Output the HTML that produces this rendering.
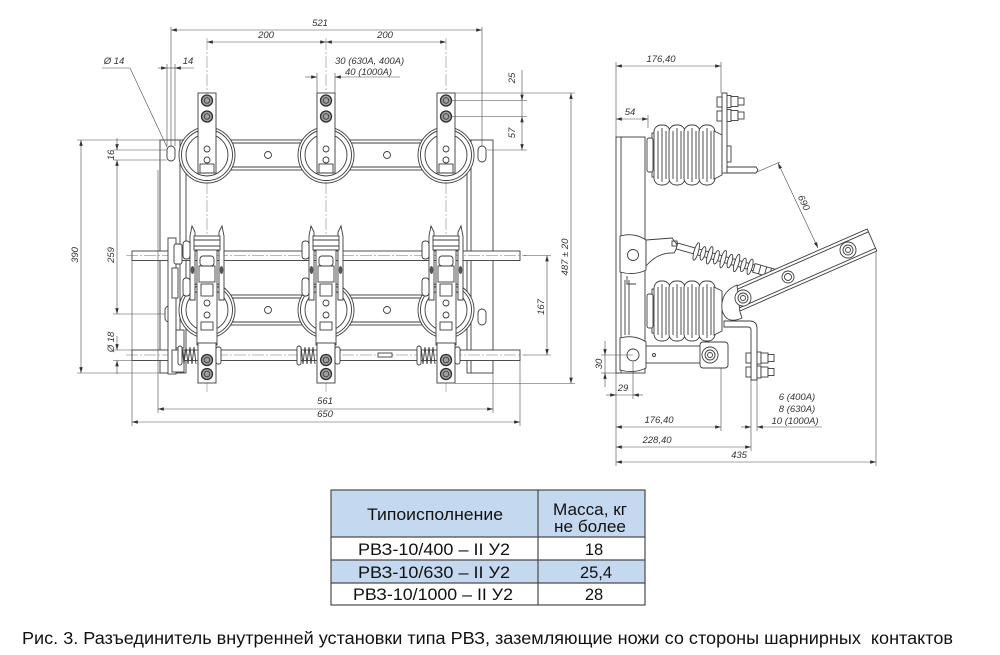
<!DOCTYPE html>
<html><head><meta charset="utf-8"><style>
html,body{margin:0;padding:0;background:#fff;}
svg{display:block;}
.o{fill:none;stroke:#3c3c3c;stroke-width:0.9}
.w{fill:#fff;stroke:#3c3c3c;stroke-width:0.9}
.bt{fill:#a0a0a0;stroke:#2e2e2e;stroke-width:1.3}
.d{fill:none;stroke:#4a4a4a;stroke-width:0.6}
.c{fill:none;stroke:#707070;stroke-width:0.5;stroke-dasharray:12 2 2 2}
.t{font-family:"Liberation Sans Narrow","Liberation Sans",sans-serif;font-style:italic;font-size:9.5px;fill:#333}
.tb{font-family:"Liberation Sans","Noto Sans CJK SC",sans-serif;fill:#111}
</style></head><body>
<svg width="1000" height="655" viewBox="0 0 1000 655" xmlns="http://www.w3.org/2000/svg">
<defs>
<marker id="a" viewBox="0 0 10 6" refX="10" refY="3" markerWidth="6" markerHeight="3.5" orient="auto-start-reverse" markerUnits="userSpaceOnUse"><path d="M0,0 L10,3 L0,6 z" fill="#333"/></marker>
<g id="ph">
 <circle cy="155" r="28" class="w"/>
 <circle cy="155" r="25.5" class="o"/>
 <circle cy="155" r="21" class="o"/>
 <circle cy="310" r="28" class="w"/>
 <circle cy="310" r="25.5" class="o"/>
 <circle cy="310" r="21" class="o"/>
 <rect x="-9" y="93" width="18" height="80" class="w"/>
 <rect x="-7" y="164" width="14" height="9" class="o"/>
 <circle cy="100.5" r="5.5" class="bt"/><circle cy="100.5" r="2.8" class="o"/>
 <circle cy="116.5" r="5.5" class="bt"/><circle cy="116.5" r="2.8" class="o"/>
 <circle cy="149" r="3" class="o"/><circle cy="160" r="3" class="o"/>
 <path class="w" d="M-17,236 L-15,226 L-12,232 L-12,300 L-17,300 Z"/>
 <path class="w" d="M17,236 L15,226 L12,232 L12,300 L17,300 Z"/>
 <rect x="-13" y="236" width="26" height="14" class="w"/>
 <line x1="-13" y1="240" x2="13" y2="240" class="o"/>
 <line x1="-13" y1="246" x2="13" y2="246" class="o"/>
 <rect x="-10" y="250" width="20" height="95" class="w"/>
 <rect x="-7" y="256" width="14" height="10" rx="3" class="o"/>
 <rect x="-8" y="266" width="16" height="16" class="o"/>
 <rect x="-6" y="284" width="12" height="12" class="o"/>
 <circle cy="303" r="3" class="o"/><circle cy="315" r="3" class="o"/>
 <rect x="-6" y="322" width="12" height="8" class="o"/>
 <rect x="-24" y="241" width="7" height="18" rx="3" class="w"/>
 <rect x="-24" y="278" width="7" height="18" rx="3" class="w"/>
 <ellipse cx="-14.5" cy="270" rx="1.8" ry="4" fill="#555"/>
 <ellipse cx="14.5" cy="270" rx="1.8" ry="4" fill="#555"/>
 <rect x="-9" y="343" width="18" height="40" class="w"/>
 <circle cy="360" r="5.5" class="bt"/><circle cy="360" r="2.8" class="o"/>
 <circle cy="374" r="5.5" class="bt"/><circle cy="374" r="2.8" class="o"/>
 <rect x="9" y="347" width="5" height="17" rx="2" class="w"/>
 <rect x="-29" y="346" width="4" height="19" rx="2" class="w"/>
 <path class="o" d="M-25,347 L-23,364 L-21,347 L-19,364 L-17,347 L-15,364 L-13,347 L-11,364"/>
</g>
<g id="bel">
 <rect x="652" y="-22" width="66" height="44" class="w"/>
 <rect x="647" y="-17" width="6" height="34" rx="2" class="w"/>
 <rect x="654" y="-30" width="16" height="60" rx="7" class="w"/>
 <rect x="669" y="-30" width="16" height="60" rx="7" class="w"/>
 <rect x="684" y="-30" width="16" height="60" rx="7" class="w"/>
 <rect x="699" y="-30" width="16" height="60" rx="7" class="w"/>
 <path class="w" d="M714,-24 L722,-20 L722,20 L714,24 Z"/>
 <g class="o" stroke-width="0.5">
  <line x1="658" y1="-24" x2="658" y2="24"/><line x1="662" y1="-27" x2="662" y2="27"/><line x1="666" y1="-24" x2="666" y2="24"/>
  <line x1="673" y1="-24" x2="673" y2="24"/><line x1="677" y1="-27" x2="677" y2="27"/><line x1="681" y1="-24" x2="681" y2="24"/>
  <line x1="688" y1="-24" x2="688" y2="24"/><line x1="692" y1="-27" x2="692" y2="27"/><line x1="696" y1="-24" x2="696" y2="24"/>
  <line x1="703" y1="-24" x2="703" y2="24"/><line x1="707" y1="-27" x2="707" y2="27"/><line x1="711" y1="-24" x2="711" y2="24"/>
 </g>
</g>
</defs>

<!-- ================= FRONT VIEW ================= -->
<g class="c">
<line x1="207" y1="38" x2="207" y2="392"/>
<line x1="326" y1="38" x2="326" y2="392"/>
<line x1="446" y1="38" x2="446" y2="392"/>
<line x1="171" y1="140" x2="171" y2="330"/>
<line x1="482" y1="140" x2="482" y2="330"/>
</g>
<g class="o">
<rect x="160" y="140" width="26" height="233" fill="#fff"/>
<line x1="180" y1="140" x2="180" y2="373"/>
<rect x="467" y="140" width="26" height="233" fill="#fff"/>
<line x1="471" y1="140" x2="471" y2="373"/>
<rect x="186" y="140" width="281" height="30" fill="#fff"/>
<line x1="186" y1="143" x2="467" y2="143"/>
<line x1="186" y1="167" x2="467" y2="167"/>
<rect x="186" y="295" width="281" height="30" fill="#fff"/>
<line x1="186" y1="298" x2="467" y2="298"/>
<line x1="186" y1="322" x2="467" y2="322"/>
<circle cx="268" cy="155" r="3.5"/><circle cx="387" cy="155" r="3.5"/>
<circle cx="268" cy="310" r="3.5"/><circle cx="387" cy="310" r="3.5"/>
<rect x="167" y="146" width="8" height="15" rx="4"/>
<rect x="478" y="146" width="8" height="16" rx="4"/>
<rect x="165" y="306" width="8" height="16" rx="4"/>
<rect x="478" y="309" width="8" height="16" rx="4"/>
</g>
<rect class="w" x="132" y="251" width="388" height="9.5"/>
<rect class="w" x="132" y="350" width="388" height="10.5"/>
<g class="c">
<line x1="126" y1="255.5" x2="526" y2="255.5"/>
<line x1="126" y1="355" x2="526" y2="355"/>
</g>
<g class="w">
<rect x="168" y="238" width="8" height="136"/>
<rect x="174" y="244" width="8" height="20" rx="2"/>
<rect x="172" y="268" width="6" height="30"/>
<rect x="176" y="330" width="8" height="18"/>
<rect x="172" y="350" width="12" height="22"/>
</g>
<rect class="w" x="378" y="353" width="14" height="4"/>
<use href="#ph" x="207"/>
<use href="#ph" x="326"/>
<use href="#ph" x="446"/>

<!-- front dims -->
<g class="d">
<line x1="171" y1="27" x2="171" y2="146"/>
<line x1="482" y1="27" x2="482" y2="146"/>
<line x1="171" y1="30" x2="482" y2="30" marker-start="url(#a)" marker-end="url(#a)"/>
<line x1="207" y1="42" x2="326" y2="42" marker-start="url(#a)" marker-end="url(#a)"/>
<line x1="326" y1="42" x2="446" y2="42" marker-start="url(#a)" marker-end="url(#a)"/>
<line x1="167" y1="64" x2="167" y2="146"/>
<line x1="175" y1="64" x2="175" y2="146"/>
<line x1="158" y1="68" x2="167" y2="68" marker-end="url(#a)"/>
<line x1="194" y1="68" x2="175" y2="68" marker-end="url(#a)"/>
<line x1="167" y1="68" x2="175" y2="68"/>
<polyline points="102,68 130,68 167,147"/>
<line x1="317" y1="73" x2="317" y2="93"/>
<line x1="335" y1="73" x2="335" y2="93"/>
<line x1="305" y1="77" x2="317" y2="77" marker-end="url(#a)"/>
<line x1="400" y1="77" x2="335" y2="77" marker-end="url(#a)"/>
<line x1="452" y1="100.5" x2="527" y2="100.5"/>
<line x1="452" y1="116.5" x2="527" y2="116.5"/>
<line x1="487" y1="150" x2="527" y2="150"/>
<line x1="522" y1="70" x2="522" y2="100.5" marker-end="url(#a)"/>
<line x1="522" y1="100.5" x2="522" y2="116.5"/>
<line x1="522" y1="116.5" x2="522" y2="150" marker-start="url(#a)" marker-end="url(#a)"/>
<line x1="455" y1="93" x2="575" y2="93"/>
<line x1="455" y1="383.5" x2="575" y2="383.5"/>
<line x1="571" y1="93" x2="571" y2="383.5" marker-start="url(#a)" marker-end="url(#a)"/>
<line x1="524" y1="255.5" x2="551" y2="255.5"/>
<line x1="524" y1="355" x2="551" y2="355"/>
<line x1="547" y1="255.5" x2="547" y2="355" marker-start="url(#a)" marker-end="url(#a)"/>
<line x1="77" y1="140" x2="160" y2="140"/>
<line x1="77" y1="373" x2="160" y2="373"/>
<line x1="81" y1="140" x2="81" y2="373" marker-start="url(#a)" marker-end="url(#a)"/>
<line x1="113" y1="150" x2="167" y2="150"/>
<line x1="113" y1="160" x2="167" y2="160"/>
<line x1="117" y1="138" x2="117" y2="150" marker-end="url(#a)"/>
<line x1="117" y1="160" x2="117" y2="314" marker-start="url(#a)" marker-end="url(#a)"/>
<line x1="113" y1="314" x2="165" y2="314"/>
<line x1="113" y1="350" x2="132" y2="350"/>
<line x1="113" y1="360.5" x2="132" y2="360.5"/>
<line x1="117" y1="336" x2="117" y2="350" marker-end="url(#a)"/>
<line x1="117" y1="374" x2="117" y2="360.5" marker-end="url(#a)"/>
<line x1="158" y1="170" x2="158" y2="413"/>
<line x1="493" y1="373" x2="493" y2="413"/>
<line x1="132" y1="261" x2="132" y2="426"/>
<line x1="520" y1="361" x2="520" y2="426"/>
<line x1="158" y1="409" x2="493" y2="409" marker-start="url(#a)" marker-end="url(#a)"/>
<line x1="132" y1="422" x2="520" y2="422" marker-start="url(#a)" marker-end="url(#a)"/>
</g>
<g class="t" text-anchor="middle">
<text x="320" y="26">521</text>
<text x="266" y="38">200</text>
<text x="385" y="38">200</text>
<text x="114" y="64">Ø 14</text>
<text x="188" y="64">14</text>
<text x="325" y="404">561</text>
<text x="325" y="417">650</text>
<text transform="translate(515,78) rotate(-90)">25</text>
<text transform="translate(515,133) rotate(-90)">57</text>
<text transform="translate(568,257) rotate(-90)">487 ± 20</text>
<text transform="translate(544,307) rotate(-90)">167</text>
<text transform="translate(78,255) rotate(-90)">390</text>
<text transform="translate(114,255) rotate(-90)">259</text>
<text transform="translate(114,155) rotate(-90)">16</text>
<text transform="translate(114,342) rotate(-90)">Ø 18</text>
</g>
<g class="t">
<text x="335" y="64">30 (630A, 400A)</text>
<text x="345" y="75">40 (1000A)</text>
</g>

<!-- ================= SIDE VIEW ================= -->
<rect class="w" x="616" y="137" width="29" height="236"/>
<line class="o" x1="621" y1="137" x2="621" y2="373"/>
<line class="o" x1="625" y1="280" x2="625" y2="335"/>
<line class="o" x1="629" y1="280" x2="629" y2="335"/>
<use href="#bel" y="155"/>
<use href="#bel" y="311"/>
<!-- upper terminal -->
<rect class="w" x="722" y="93" width="5" height="80"/>
<path class="w" d="M727,167 L756,167 L758,170 L756,173 L727,173 Z"/>
<rect class="w" x="717" y="97" width="5" height="10"/>
<rect class="w" x="717" y="111" width="5" height="10"/>
<rect class="w" x="727" y="146" width="4" height="16"/>
<rect class="w" x="727" y="95.5" width="4" height="12"/>
<rect class="w" x="731" y="96.5" width="7" height="10"/>
<rect class="w" x="738" y="98" width="6" height="7"/>
<rect class="w" x="727" y="109.5" width="4" height="12"/>
<rect class="w" x="731" y="110.5" width="7" height="10"/>
<rect class="w" x="738" y="112" width="6" height="7"/>
<!-- hinge and arm -->
<path class="w" d="M620,236 Q634,232 646,240 L646,270 Q634,276 620,272 Z"/>
<circle class="o" cx="633" cy="255" r="5.5"/>
<path class="o" d="M627,276 L627,284 L636,284"/>
<path class="w" d="M646,240 L672,238 L678,246 L674,253 Q658,252 646,266 Z"/>
<rect class="o" x="672" y="241" width="5" height="5"/>
<g transform="translate(677,246) rotate(15.9)">
 <rect class="w" x="0" y="-3" width="100" height="6"/>
 <ellipse class="w" cx="20" cy="0" rx="2.2" ry="9"/>
 <ellipse class="w" cx="27" cy="0" rx="2.2" ry="7"/>
 <ellipse class="w" cx="34" cy="0" rx="2.2" ry="9"/>
 <ellipse class="w" cx="41" cy="0" rx="2.2" ry="7"/>
 <ellipse class="w" cx="48" cy="0" rx="2.2" ry="9"/>
 <ellipse class="w" cx="55" cy="0" rx="2.2" ry="7"/>
 <ellipse class="w" cx="62" cy="0" rx="2.2" ry="9"/>
 <ellipse class="w" cx="69" cy="0" rx="2.2" ry="7"/>
 <ellipse class="w" cx="76" cy="0" rx="2.2" ry="8"/>
 <rect class="w" x="80" y="-4.5" width="22" height="9"/>
 <line class="o" x1="86" y1="-4.5" x2="86" y2="4.5"/>
 <line class="o" x1="92" y1="-4.5" x2="92" y2="4.5"/>
 <line class="o" x1="97" y1="-4.5" x2="97" y2="4.5"/>
</g>
<!-- blade -->
<polygon class="w" points="730.2,289 867.2,229 876.8,251 739.8,311"/>
<line class="o" x1="731.4" y1="291.8" x2="868.4" y2="231.8"/>
<line class="o" x1="738.6" y1="308.2" x2="875.6" y2="248.2"/>
<path class="w" d="M737,285 Q720,292 722,310 Q726,325 742,318 L739.8,311 Z"/>
<circle class="w" cx="743" cy="298" r="8"/><circle class="o" cx="743" cy="298" r="5"/><circle class="o" cx="743" cy="298" r="2.5"/>
<circle class="w" cx="788" cy="277" r="6"/><circle class="o" cx="788" cy="277" r="3.5"/>
<circle class="w" cx="848" cy="250" r="8"/><circle class="o" cx="848" cy="250" r="5"/><circle class="o" cx="848" cy="250" r="2.5"/>
<!-- lower terminal -->
<path class="w" d="M724,321 L750,321 Q757,321 757,329 L757,380 L751,380 L751,330 Q751,327 748,327 L724,327 Z"/>
<rect class="w" x="746" y="353" width="5" height="10"/>
<rect class="w" x="746" y="367" width="5" height="10"/>
<rect class="w" x="757" y="352" width="4" height="12"/>
<rect class="w" x="761" y="353" width="7" height="10"/>
<rect class="w" x="768" y="354.5" width="6" height="7"/>
<rect class="w" x="757" y="366" width="4" height="12"/>
<rect class="w" x="761" y="367" width="7" height="10"/>
<rect class="w" x="768" y="368.5" width="6" height="7"/>
<!-- lower arm -->
<rect class="w" x="645" y="346" width="80" height="17"/>
<rect class="w" x="700" y="342" width="28" height="26" rx="3"/>
<circle class="w" cx="710" cy="355" r="8"/><circle class="o" cx="710" cy="355" r="5"/><circle class="o" cx="710" cy="355" r="2.5"/>
<circle class="o" cx="654" cy="355" r="1.5"/>
<path class="w" d="M620,338 Q634,334 646,342 L646,368 Q634,374 620,370 Z"/>
<circle class="o" cx="633" cy="355" r="6"/>

<!-- side dims -->
<g class="d">
<line x1="616" y1="62" x2="616" y2="137"/>
<line x1="721" y1="62" x2="721" y2="93"/>
<line x1="616" y1="66" x2="721" y2="66" marker-start="url(#a)" marker-end="url(#a)"/>
<line x1="648" y1="115" x2="648" y2="128"/>
<line x1="616" y1="119" x2="648" y2="119" marker-start="url(#a)" marker-end="url(#a)"/>
<line x1="757" y1="172" x2="780" y2="162"/>
<line x1="778" y1="163" x2="818" y2="248" marker-start="url(#a)" marker-end="url(#a)"/>
<line x1="601" y1="355" x2="633" y2="355"/>
<line x1="601" y1="373" x2="616" y2="373"/>
<line x1="605" y1="341" x2="605" y2="355" marker-end="url(#a)"/>
<line x1="605" y1="387" x2="605" y2="373" marker-end="url(#a)"/>
<line x1="605" y1="355" x2="605" y2="373"/>
<line x1="633" y1="362" x2="633" y2="399"/>
<line x1="616" y1="373" x2="616" y2="466"/>
<line x1="606" y1="395" x2="616" y2="395" marker-end="url(#a)"/>
<line x1="643" y1="395" x2="633" y2="395" marker-end="url(#a)"/>
<line x1="616" y1="395" x2="633" y2="395"/>
<line x1="721" y1="368" x2="721" y2="431"/>
<line x1="616" y1="427" x2="721" y2="427" marker-start="url(#a)" marker-end="url(#a)"/>
<line x1="751" y1="380" x2="751" y2="451"/>
<line x1="757" y1="380" x2="757" y2="431"/>
<line x1="616" y1="447" x2="751" y2="447" marker-start="url(#a)" marker-end="url(#a)"/>
<line x1="741" y1="427" x2="751" y2="427" marker-end="url(#a)"/>
<line x1="822" y1="427" x2="757" y2="427" marker-end="url(#a)"/>
<line x1="876" y1="251" x2="876" y2="466"/>
<line x1="616" y1="462" x2="876" y2="462" marker-start="url(#a)" marker-end="url(#a)"/>
</g>
<g class="t" text-anchor="middle">
<text x="661" y="62">176,40</text>
<text x="630" y="115">54</text>
<text transform="translate(801,204) rotate(65)">690</text>
<text transform="translate(602,364) rotate(-90)">30</text>
<text x="623" y="391">29</text>
<text x="659" y="423">176,40</text>
<text x="657" y="443">228,40</text>
<text x="739" y="458">435</text>
<text x="797" y="400">6 (400A)</text>
<text x="797" y="412">8 (630A)</text>
<text x="795" y="424">10 (1000A)</text>
</g>

<!-- ================= TABLE ================= -->
<rect x="331" y="490" width="314" height="47" fill="#c4d8ef"/>
<rect x="331" y="560" width="314" height="23" fill="#c4d8ef"/>
<g stroke="#4a4a4a" stroke-width="1.2" fill="none">
<rect x="331" y="490" width="314" height="115"/>
<line x1="538" y1="490" x2="538" y2="605"/>
<line x1="331" y1="537" x2="645" y2="537"/>
<line x1="331" y1="560" x2="645" y2="560"/>
<line x1="331" y1="583" x2="645" y2="583"/>
</g>
<g class="tb" font-size="16.5" text-anchor="middle">
<text x="435" y="520" textLength="136" lengthAdjust="spacingAndGlyphs">Типоисполнение</text>
<text x="590" y="515" textLength="74" lengthAdjust="spacingAndGlyphs">Масса, кг</text>
<text x="590" y="532" textLength="72" lengthAdjust="spacingAndGlyphs">не более</text>
<text x="434" y="555" textLength="152" lengthAdjust="spacingAndGlyphs">РВЗ-10/400 – II У2</text>
<text x="594" y="555">18</text>
<text x="434" y="578" textLength="152" lengthAdjust="spacingAndGlyphs">РВЗ-10/630 – II У2</text>
<text x="596" y="578">25,4</text>
<text x="433" y="600" textLength="160" lengthAdjust="spacingAndGlyphs">РВЗ-10/1000 – II У2</text>
<text x="594" y="600">28</text>
</g>

<!-- caption -->
<text class="tb" x="22" y="644" font-size="17.5" textLength="931" lengthAdjust="spacingAndGlyphs" style="white-space:pre">Рис. 3. Разъединитель внутренней установки типа РВЗ, заземляющие ножи со стороны шарнирных  контактов</text>
</svg>
</body></html>
